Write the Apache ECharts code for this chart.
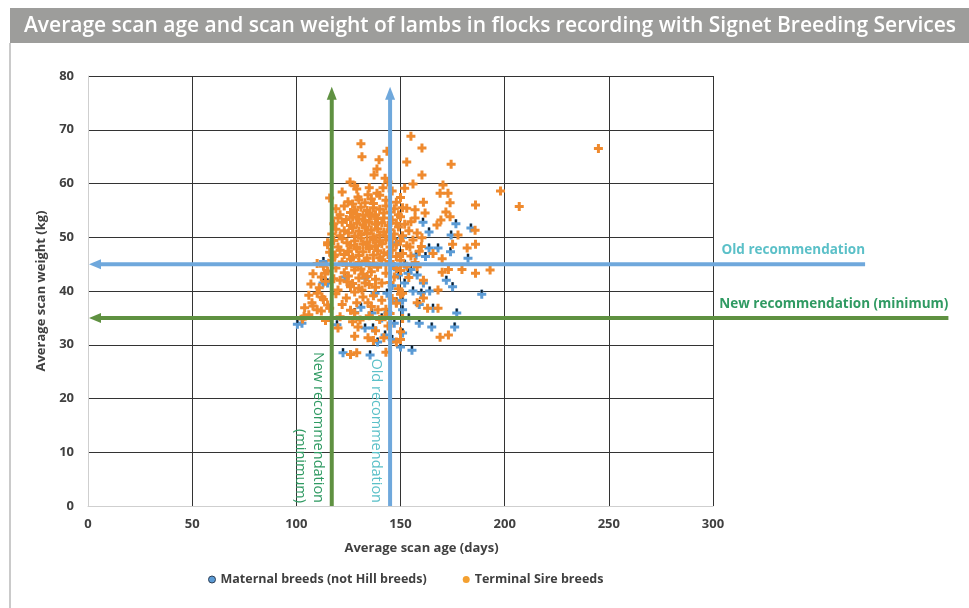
<!DOCTYPE html>
<html>
<head>
<meta charset="utf-8">
<script src="https://cdn.jsdelivr.net/npm/echarts@6/dist/echarts.min.js"></script>
<style>
  html, body { margin: 0; padding: 0; background: #fff; }
  #chart { width: 969px; height: 608px; }
</style>
</head>
<body>
<div id="chart"></div>
<script>
// data: [age (days), weight (kg)]
var maternal = [
    [102.7,34],[100.5,33.8],[119.5,33.7],[112.8,41.5],[115,41.5],[113,45.5],[123.4,42.6],[133,42.4],
    [137.8,39.6],[143.5,39.6],[136.3,35.9],[133,33.1],[136.8,33.1],[142.6,31.8],[122.4,28.5],[135.4,28.1],
    [150,29.6],[155.5,29],[151,32.2],[159,34],[165,33.3],[176,33.3],[177,35.9],[165.6,36.8],
    [151,36.5],[151,38.3],[160,39.6],[164,40],[175,40.8],[172,42],[161,41.5],[152,41.5],
    [153.6,43.3],[157.5,46.7],[162,46.4],[163.7,48],[168,48],[174,47.3],[182.4,46.1],[189,39.4],
    [160.8,52.8],[176.6,52.5],[183.8,51.7],[163.7,51],[174.3,50.4],[147,44.5],[149,43],[146,41],
    [148,38],[144,36],[147,34],[141,35],[139,30.5],[146,31],[150,47],[152,45],
    [155,44],[158,43],[156,40],[159,37.5],[154,35],[148,49],[151,50],[126,41],
    [128,36],[131,37]
];

var terminal = [
    [245,66.5],[207,55.7],[198,58.6],[193,43.9],[186,56],[186,48.7],[182,48],[186,43.3],
    [179.5,44],[175,48.7],[174.3,63.6],[173.8,56.4],[172.8,58.2],[170.4,59.7],[169,58.2],[171.8,54.7],
    [173.8,53.8],[169.4,53.2],[167.5,52.3],[177.6,50.4],[185.8,51.3],[160.3,66.6],[155,68.8],[153,64],
    [160.3,61.6],[156,59.9],[161,56.5],[153,55.4],[161.8,54.5],[157,53.6],[160.3,49.9],[165.6,47],
    [170,46],[170,43.5],[173,44],[158,44.5],[161,42],[168,40.2],[161,38.7],[158,37.8],
    [163,36.8],[168,36.8],[169,31.4],[173,31.8],[150,31],[151,39.6],[154.5,48.2],
    [131,67.4],[131.5,65],[143.5,66],[139.7,64.4],[138.7,62.7],[137.3,61.6],[125.8,60.3],[129,59],
    [142.6,61],[116,57.3],[124.8,56.6],[129.6,57.5],[134.4,57.9],[138.7,58.2],[141.6,59.2],[144,60.3],
    [115,49],[124.3,49],[124.8,47.3],[118.6,46.7],[113.8,43.3],[121,42],[124.3,41.7],[120,40.2],
    [110,39.6],[112.3,38.9],[107.5,37.8],[110,36.5],[115,37.4],[103.7,35.3],[128,35.9],[129.6,33.3],
    [134.4,31.3],[129,28.5],[132,38.9],[129,37.8],[134.4,37.8],[141,38.3],[141,41.5],[133,41.5],
    [131.5,40.2],[139.2,36.5],[142.6,35.2],[130.6,34.6],[126,28.2],
    [122,58.4],[127,56.2],[128,59.6],[130,57],[133,56.4],[135,59.2],[136,57.1],[137,56.3],
    [140,57.8],[143,56.9],[146,58.6],[148,56.5],[150,57.4],[152,59.1],
    [119,55.3],[121,54.2],[123,55.8],[126,54.6],[128,55.1],[129,54.3],[131,55.6],[132,54.1],
    [134,55],[135,54.4],[137,55.5],[138,54.2],[140,55.2],[142,54.5],[143,55.8],[145,54.7],
    [147,55.3],[149,54.2],[151,55.5],[157,55.1],
    [118,52.5],[120,53.6],[122,52.8],[124,53.3],[126,52.2],[127,53.7],[129,52.6],[130,53.4],
    [132,52.3],[133,53.1],[135,52.8],[136,53.9],[138,52.4],[139,53.5],[141,52.7],[142,53.6],
    [144,52.2],[146,53.2],[148,52.6],[150,53.8],[152,52.4],[155,52.9],
    [117,50.6],[119,51.5],[121,50.3],[123,51.2],[125,50.8],[127,51.7],[128,50.2],[130,51.1],
    [131,50.5],[133,51.8],[134,50.7],[136,51.3],[137,50.1],[139,51.6],[140,50.4],[142,51],
    [143,50.2],[145,51.4],[147,50.6],[149,51.9],[151,50.3],[154,51.2],[158,50.8],
    [115,48.6],[118,49.4],[120,48.2],[122,49.7],[126,48.5],[128,49.3],[129,48.1],[131,49.8],
    [132,48.7],[134,49.1],[135,48.3],[137,49.6],[138,48.4],[140,49.2],[141,48.8],[143,49.5],
    [145,48.2],[146,49.7],[148,48.6],[150,49.3],[153,48.4],[156,49.5],[160,48.3],
    [116,47.2],[118,46.4],[121,47.6],[123,46.8],[125,47.4],[127,46.3],[129,47.8],[130,46.6],
    [132,47.3],[134,46.1],[135,47.9],[137,46.7],[139,47.5],[140,46.2],[142,47.1],[144,46.8],
    [146,47.6],[148,46.4],[151,47],[155,46.5],[159,47.4],
    [110,45.1],[113,44.6],[117,45.7],[119,44.3],[122,45.4],[124,44.8],[126,45.9],[128,44.5],
    [130,45.3],[131,44.1],[133,45.6],[135,44.7],[137,45.2],[139,44.4],[141,45.8],[143,44.9],
    [145,45.5],[148,44.2],[150,45.7],[153,44.6],[157,45.3],
    [108,43.2],[112,42.6],[115,43.7],[118,42.3],[123,43.4],[125,42.8],[128,43.9],[130,42.4],
    [132,43.1],[134,42.7],[136,43.6],[138,42.2],[143,43.3],[147,42.6],[150,43.8],[154,42.5],
    [107,41.3],[111,40.6],[114,41.8],[126,40.8],[127,41.4],[130,40.5],[135,41.2],[138,40.7],
    [145,41.6],[149,40.4],
    [106,39.2],[113,38.4],[119,39.5],[124,38.7],[128,39.8],[137,39.1],[146,38.6],[150,39.4],
    [104,36.9],[108,37.2],[112,36.3],[116,36.8],[122,37.5],[126,36.4],[136,37.1],[143,36.6],[148,37.7],
    [103,34.8],[106,35.6],[114,34.5],[121,35.2],[127,34.3],[135,35.4],[140,34.7],[145,35.8],[151,34.9],
    [120,33.1],[138,32.6],[144,33.5],[150,32.4],
    [128,31.6],[137,30.8],[142,31.3],[148,30.5],
    [143,28.6]
];

// recommendation lines
var recNames = ['Old recommendation', 'New recommendation (minimum)'];
var recAges = [145, 117];
var recWeights = [45, 35];

var xTicks = [0, 50, 100, 150, 200, 250, 300];
var yTicks = [0, 10, 20, 30, 40, 50, 60, 70, 80];

var recColors = ['#6fa8dc', '#5f9141'];
var recTextColors = ['#5bc0c8', '#2f9a62'];
var recLineEnds = [373, 413];   // how far the horizontal arrows run past the axis
var recVerticalLabels = ['Old recommendation', 'New recommendation\n(minimum)'];

var plusPath = 'path://M3,0H6V3H9V6H6V9H3V6H0V3H3Z';

var myChart = echarts.init(document.getElementById('chart'));

function renderRec(params, api) {
    var i = params.dataIndex;
    var age = api.value(0);
    var wt = api.value(1);
    var color = recColors[i];
    var txtColor = recTextColors[i];
    var hs = api.coord([0, wt]);
    var he = api.coord([recLineEnds[i], wt]);
    var vs = api.coord([age, 0]);
    var ve = api.coord([age, 78]);
    var lw = 4;
    return {
        type: 'group',
        children: [
            { type: 'line', shape: { x1: hs[0] + 11, y1: hs[1], x2: he[0], y2: he[1] },
              style: { stroke: color, lineWidth: lw } },
            { type: 'polygon', shape: { points: [[hs[0] + 1, hs[1]], [hs[0] + 13, hs[1] - 5], [hs[0] + 13, hs[1] + 5]] },
              style: { fill: color } },
            { type: 'line', shape: { x1: vs[0], y1: vs[1], x2: ve[0], y2: ve[1] + 11 },
              style: { stroke: color, lineWidth: lw } },
            { type: 'polygon', shape: { points: [[ve[0], ve[1]], [ve[0] - 5, ve[1] + 13], [ve[0] + 5, ve[1] + 13]] },
              style: { fill: color } },
            { type: 'text', x: he[0], y: he[1] - 7,
              style: { text: recNames[i], fill: txtColor, font: 'bold 13.5px "Open Sans"',
                       align: 'right', verticalAlign: 'bottom' } },
            { type: 'text', x: vs[0] - 5, y: vs[1] - 3, rotation: -Math.PI / 2,
              style: { text: recVerticalLabels[i], fill: txtColor, font: '14.5px "Open Sans"',
                       align: 'right', verticalAlign: 'top', lineHeight: 18 } }
        ]
    };
}

var axisLabelStyle = { color: '#404040', fontWeight: 'bold', fontSize: 13, fontFamily: 'Open Sans' };
var axisNameStyle = { color: '#404040', fontWeight: 'bold', fontSize: 13, fontFamily: 'Open Sans' };

myChart.setOption({
    animation: false,
    backgroundColor: '#fff',
    graphic: [
        { type: 'rect', shape: { x: 10, y: 8, width: 959, height: 35 }, style: { fill: '#9d9d9b' }, z: 1 },
        { type: 'line', shape: { x1: 10, y1: 43, x2: 10, y2: 608 }, style: { stroke: '#b8b8b8', lineWidth: 1.5 } },
        { type: 'text', x: 490, y: 26, z: 2,
          style: { text: 'Average scan age and scan weight of lambs in flocks recording with Signet Breeding Services',
                   fill: '#fff', font: '600 21px "Open Sans"', align: 'center', verticalAlign: 'middle' } }
    ],
    grid: { left: 88, right: 256, top: 76, bottom: 102 },
    legend: {
        bottom: 17,
        left: 203,
        itemGap: 36,
        itemWidth: 7,
        itemHeight: 7,
        textStyle: { color: '#404040', fontWeight: 'bold', fontSize: 12.5, fontFamily: 'Open Sans' },
        data: [
            { name: 'Maternal breeds (not Hill breeds)', icon: 'circle',
              itemStyle: { color: '#5b9bd5', borderColor: '#2f3f55', borderWidth: 1 } },
            { name: 'Terminal Sire breeds', icon: 'circle', itemStyle: { color: '#f4a030' } }
        ]
    },
    xAxis: {
        type: 'value',
        min: xTicks[0],
        max: xTicks[xTicks.length - 1],
        interval: 50,
        name: 'Average scan age (days)',
        nameLocation: 'middle',
        nameGap: 36,
        nameTextStyle: Object.assign({ padding: [0, 0, 0, 42] }, axisNameStyle),
        axisLine: { show: true, lineStyle: { color: '#cfcfcf' } },
        axisTick: { show: false },
        axisLabel: Object.assign({ margin: 12 }, axisLabelStyle),
        splitLine: { show: true, lineStyle: { color: '#333', width: 1 } }
    },
    yAxis: {
        type: 'value',
        min: yTicks[0],
        max: yTicks[yTicks.length - 1],
        interval: 10,
        name: 'Average scan weight (kg)',
        nameLocation: 'middle',
        nameGap: 36,
        nameTextStyle: axisNameStyle,
        axisLine: { show: true, lineStyle: { color: '#cfcfcf' } },
        axisTick: { show: false },
        axisLabel: Object.assign({ margin: 14 }, axisLabelStyle),
        splitLine: { show: true, lineStyle: { color: '#333', width: 1 } }
    },
    series: [
        {
            name: 'Maternal breeds (not Hill breeds)',
            type: 'scatter',
            symbol: plusPath,
            symbolSize: 9,
            itemStyle: { color: '#5b9bd5', opacity: 1 },
            data: maternal,
            z: 3
        },
        {
            name: 'maternal-tick',
            type: 'scatter',
            symbol: 'rect',
            symbolSize: [2, 3],
            symbolOffset: [0, -3],
            silent: true,
            itemStyle: { color: '#000' },
            data: maternal,
            z: 3
        },
        {
            name: 'Terminal Sire breeds',
            type: 'scatter',
            symbol: plusPath,
            symbolSize: 9,
            itemStyle: { color: '#ef8a2e', opacity: 1 },
            data: terminal,
            z: 4
        },
        {
            name: 'recommendations',
            type: 'custom',
            clip: false,
            silent: true,
            renderItem: renderRec,
            data: recAges.map(function (a, i) { return [a, recWeights[i]]; }),
            z: 5
        }
    ]
});
</script>
</body>
</html>
